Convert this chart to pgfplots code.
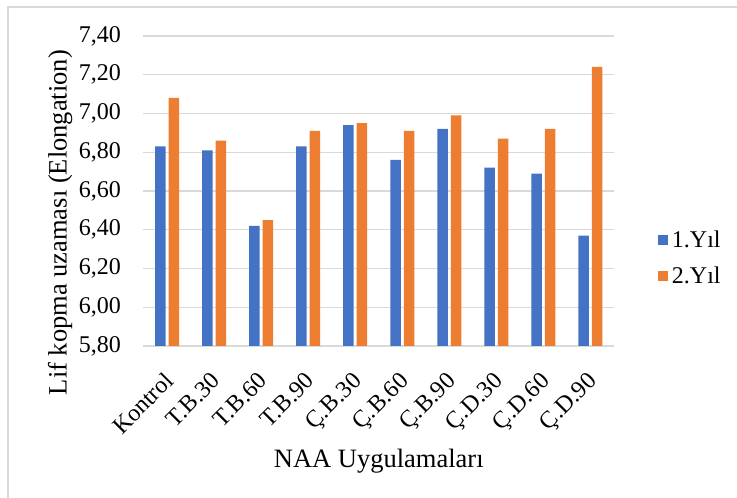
\documentclass[border=0pt]{standalone}
\usepackage{pgfplots}
\pgfplotsset{compat=1.18}
\usepackage{fontspec}
\setmainfont{Liberation Serif}
\definecolor{cblue}{HTML}{4472C4}
\definecolor{corange}{HTML}{ED7D31}
\definecolor{cgrid}{HTML}{D9D9D9}
\begin{document}
\begin{tikzpicture}[x=1pt,y=1pt]
\useasboundingbox (0,0) rectangle (737,498);
\draw[cgrid, line width=1.2pt] (8,-5) -- (8,491) -- (745,491);
\begin{axis}[
  at={(143.5pt,152pt)}, anchor=south west,
  scale only axis, width=470.5pt, height=310pt,
  ymin=5.8, ymax=7.4, ytick distance=0.2,
  xmin=-0.5, xmax=9.5,
  xtick={0,...,9},
  xticklabels={Kontrol,T.B.30,T.B.60,T.B.90,Ç.B.30,Ç.B.60,Ç.B.90,Ç.D.30,Ç.D.60,Ç.D.90},
  axis line style={draw=none},
  major tick length=0pt,
  ymajorgrids, grid style={cgrid, line width=1.2pt},
  /pgf/number format/.cd, fixed, fixed zerofill, precision=2, use comma, assume math mode=true,
  /pgfplots/.cd,
  ticklabel style={font=\fontsize{24}{28}\selectfont},
  yticklabel style={anchor=east, xshift=-19pt},
  xticklabel style={xshift=-4pt, yshift=-20pt, rotate=45, anchor=north east},
  ylabel={Lif kopma uzaması (Elongation)},
  xlabel={NAA Uygulamaları},
  label style={font=\fontsize{26.5}{30}\selectfont},
  ylabel style={at={(axis description cs:-0.177,0.398)}, anchor=center, rotate=0},
  xlabel style={at={(axis description cs:0.5,-0.37)}, anchor=center},
  legend style={draw=none, fill=none, at={(axis description cs:1.093,0.284)}, anchor=west,
    font=\fontsize{24}{28}\selectfont, row sep=14pt, inner sep=0pt,
    /tikz/every odd column/.append style={column sep=2pt}},
  legend cell align=left,
  ybar, bar width=10.5pt,
]
\addplot[fill=cblue, draw=none, bar shift=-6.75pt,
  legend image code/.code={\fill[cblue] (0pt,-5pt) rectangle (10pt,5pt);}] coordinates {
(0,6.83) (1,6.81) (2,6.42) (3,6.83) (4,6.94) (5,6.76) (6,6.92) (7,6.72) (8,6.69) (9,6.37)};
\addplot[fill=corange, draw=none, bar shift=6.75pt,
  legend image code/.code={\fill[corange] (0pt,-5pt) rectangle (10pt,5pt);}] coordinates {
(0,7.08) (1,6.86) (2,6.45) (3,6.91) (4,6.95) (5,6.91) (6,6.99) (7,6.87) (8,6.92) (9,7.24)};
\legend{1.Yıl,2.Yıl}
\end{axis}
\end{tikzpicture}
\end{document}
